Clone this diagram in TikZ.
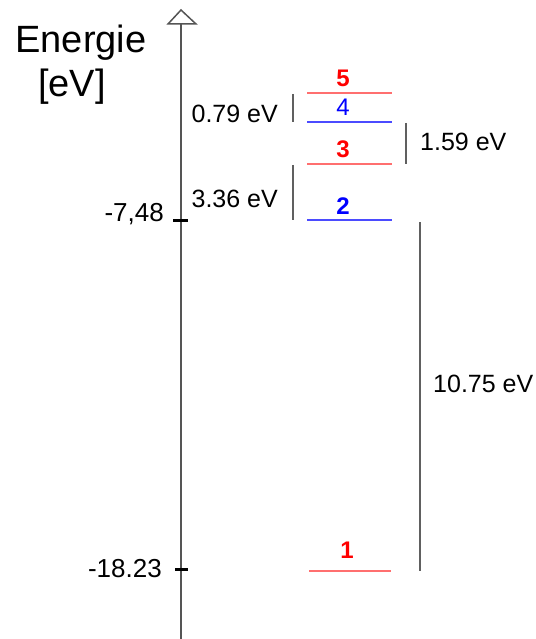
\documentclass[tikz,border=0pt]{standalone}
\usepackage{fontspec}
\setmainfont{Liberation Sans}
\definecolor{lvred}{HTML}{FF6F6F}
\definecolor{lvblue}{HTML}{4B4BFF}
\definecolor{axgray}{HTML}{555555}
\definecolor{bargray}{HTML}{606060}
\begin{document}
\begin{tikzpicture}[x=1pt,y=-1pt,
  redlvl/.style={draw=lvred,line width=2pt},
  bluelvl/.style={draw=lvblue,line width=2pt},
  bar/.style={draw=bargray,line width=2pt},
  tickmark/.style={draw=black,line width=3pt},
  txt/.style={inner sep=0pt,font=\fontsize{25}{25}\selectfont},
  ticktxt/.style={inner sep=0pt,font=\fontsize{26}{26}\selectfont},
  big/.style={inner sep=0pt,font=\fontsize{38}{38}\selectfont},
  numred/.style={inner sep=0pt,text=red,font=\fontsize{24}{24}\selectfont\bfseries},
  numblue/.style={inner sep=0pt,text=blue,font=\fontsize{24}{24}\selectfont\bfseries},
  numbluereg/.style={inner sep=0pt,text=blue,font=\fontsize{24}{24}\selectfont}]
\useasboundingbox (0,0) rectangle (535,639);
% axis
\coordinate (axtop) at (181,24);
\coordinate (axbot) at (181,639);
\draw[draw=axgray,line width=1.8pt] (axtop) -- (axbot);
\draw[draw=axgray,line width=1.5pt,fill=white,line join=miter] (168,24) -- (181,10) -- (196,24) -- cycle;
% ticks
\coordinate (t1a) at (173,220); \coordinate (t1b) at (188,220);
\coordinate (t2a) at (175,569); \coordinate (t2b) at (188,569);
\draw[tickmark] (t1a) -- (t1b);
\draw[tickmark] (t2a) -- (t2b);
\node[ticktxt,anchor=base east] (tl1) at (164,221) {-7,48};
\node[ticktxt,anchor=base east] (tl2) at (162,577) {-18.23};
% title
\node[big,anchor=base] (en) at (81,53) {Energie};
\node[big,anchor=base] (ev) at (72,97) {[eV]};
% levels
\coordinate (l5a) at (307,93);  \coordinate (l5b) at (392,93);
\coordinate (l4a) at (307,122); \coordinate (l4b) at (392,122);
\coordinate (l3a) at (307,164); \coordinate (l3b) at (392,164);
\coordinate (l2a) at (307,220); \coordinate (l2b) at (392,220);
\coordinate (l1a) at (309,571); \coordinate (l1b) at (391,571);
\draw[redlvl] (l5a) -- (l5b);
\draw[bluelvl] (l4a) -- (l4b);
\draw[redlvl] (l3a) -- (l3b);
\draw[bluelvl] (l2a) -- (l2b);
\draw[redlvl] (l1a) -- (l1b);
\node[numred,anchor=base] (n5) at (343,87) {5};
\node[numbluereg,anchor=base] (n4) at (343,116) {4};
\node[numred,anchor=base] (n3) at (343,158) {3};
\node[numblue,anchor=base] (n2) at (343,214) {2};
\node[numred,anchor=base] (n1) at (347,558) {1};
% bars
\coordinate (b1a) at (293,94);  \coordinate (b1b) at (293,122);
\coordinate (b2a) at (293,165); \coordinate (b2b) at (293,220);
\coordinate (b3a) at (406,123); \coordinate (b3b) at (406,164);
\coordinate (b4a) at (420,222); \coordinate (b4b) at (420,571);
\draw[bar] (b1a) -- (b1b);
\draw[bar] (b2a) -- (b2b);
\draw[bar] (b3a) -- (b3b);
\draw[bar] (b4a) -- (b4b);
\node[txt,anchor=base east] (e1) at (278,123) {0.79 eV};
\node[txt,anchor=base east] (e2) at (278,207) {3.36 eV};
\node[txt,anchor=base west] (e3) at (420,151) {1.59 eV};
\node[txt,anchor=base west] (e4) at (433,392) {10.75 eV};
\end{tikzpicture}
\end{document}
